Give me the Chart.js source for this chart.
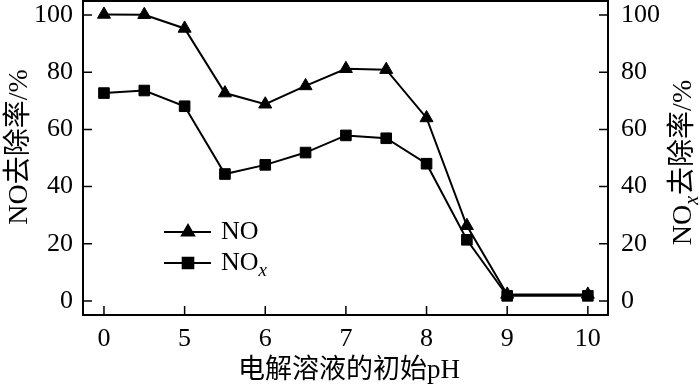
<!DOCTYPE html>
<html lang="zh">
<head>
    <meta charset="UTF-8">
    <title>NO / NOx 去除率</title>
    <script src="https://cdn.jsdelivr.net/npm/chart.js"></script>
    <style>
        html, body { margin: 0; padding: 0; background: #fff; }
    </style>
</head>
<body>
    <canvas id="chart" width="700" height="390"></canvas>

    <script>
        // x 位置（坐标轴单位），刻度标签对应 pH
        const xPos = [0, 0.5, 1, 1.5, 2, 2.5, 3, 3.5, 4, 4.5, 5, 6];
        const xTickLabels = ['0', '5', '6', '7', '8', '9', '10'];
        const yTicks = [0, 20, 40, 60, 80, 100];

        // 去除率 %
        const noValues  = [100.2, 100.1, 95.3, 72.7, 68.8, 75.2, 81.2, 80.9, 64.0, 26.3, 2.3, 2.3];
        const noxValues = [72.7, 73.6, 68.1, 44.4, 47.6, 51.9, 57.9, 56.9, 48.0, 21.4, 1.8, 1.8];

        const serif = '"Liberation Serif", "Noto Sans CJK SC", serif';
        const cjk = '"Liberation Serif", "Noto Sans CJK SC", serif';

        function fixTicks(scale) {
            scale.ticks = yTicks.map(v => ({ value: v }));
        }

        // 边框、内向刻度、坐标轴标题和图例
        const decor = {
            id: 'decor',
            afterDraw(chart) {
                const ctx = chart.ctx;
                const a = chart.chartArea;
                const x = chart.scales.x, y = chart.scales.y;
                ctx.save();
                ctx.strokeStyle = '#000';
                ctx.lineWidth = 2;
                ctx.strokeRect(a.left, a.top, a.right - a.left, a.bottom - a.top);

                ctx.lineWidth = 1.5;
                ctx.beginPath();
                yTicks.forEach(v => {
                    const py = y.getPixelForValue(v);
                    ctx.moveTo(a.left, py); ctx.lineTo(a.left + 9, py);
                    ctx.moveTo(a.right, py); ctx.lineTo(a.right - 9, py);
                });
                xTickLabels.forEach((t, i) => {
                    const px = x.getPixelForValue(i);
                    ctx.moveTo(px, a.bottom); ctx.lineTo(px, a.bottom - 9);
                });
                ctx.stroke();

                ctx.fillStyle = '#000';
                ctx.textBaseline = 'middle';

                // x 轴标题
                ctx.font = '27px ' + cjk;
                ctx.textAlign = 'center';
                ctx.fillText('电解溶液的初始pH', 349, 371);

                // 左 y 轴标题
                ctx.save();
                ctx.translate(20, 147);
                ctx.rotate(-Math.PI / 2);
                ctx.font = '28px ' + cjk;
                ctx.fillText('NO去除率/%', 0, 0);
                ctx.restore();

                // 右 y 轴标题（带下标 x）
                ctx.save();
                ctx.translate(684, 163);
                ctx.rotate(-Math.PI / 2);
                drawNOx(ctx, '去除率/%', 28, 'center');
                ctx.restore();

                // 图例
                const items = [
                    { style: 'triangle', r: 7, y: 232, label: 'NO' },
                    { style: 'rect', r: 7.5, y: 263, label: 'NOx' }
                ];
                items.forEach(it => {
                    ctx.lineWidth = 2;
                    ctx.beginPath();
                    ctx.moveTo(164, it.y); ctx.lineTo(211, it.y);
                    ctx.stroke();
                    Chart.helpers.drawPoint(ctx, { pointStyle: it.style, radius: it.r, borderWidth: 1 }, 188, it.y);
                    ctx.fill();
                    ctx.textAlign = 'left';
                    if (it.label === 'NO') {
                        ctx.font = '26px ' + serif;
                        ctx.fillText('NO', 221, it.y);
                    } else {
                        ctx.save();
                        ctx.translate(221, it.y);
                        drawNOx(ctx, '', 26, 'left');
                        ctx.restore();
                    }
                });
                ctx.restore();
            }
        };

        function drawNOx(ctx, tail, size, align) {
            ctx.font = size + 'px ' + serif;
            const w1 = ctx.measureText('NO').width;
            ctx.font = 'italic ' + Math.round(size * 0.72) + 'px ' + serif;
            const w2 = ctx.measureText('x').width;
            ctx.font = size + 'px ' + cjk;
            const w3 = tail ? ctx.measureText(tail).width : 0;
            let x0 = align === 'center' ? -(w1 + w2 + w3) / 2 : 0;
            ctx.textAlign = 'left';
            ctx.font = size + 'px ' + serif;
            ctx.fillText('NO', x0, 0);
            ctx.font = 'italic ' + Math.round(size * 0.72) + 'px ' + serif;
            ctx.fillText('x', x0 + w1, size * 0.3);
            if (tail) {
                ctx.font = size + 'px ' + cjk;
                ctx.fillText(tail, x0 + w1 + w2 + 1, 0);
            }
        }

        const tickFont = { family: serif, size: 26 };

        new Chart(document.getElementById('chart'), {
            type: 'line',
            data: {
                datasets: [{
                    label: 'NO',
                    data: xPos.map((v, i) => ({ x: v, y: noValues[i] })),
                    borderColor: '#000',
                    backgroundColor: '#000',
                    borderWidth: 2,
                    pointStyle: 'triangle',
                    pointRadius: 7.5,
                    pointBorderWidth: 1,
                    yAxisID: 'y'
                }, {
                    label: 'NOx',
                    data: xPos.map((v, i) => ({ x: v, y: noxValues[i] })),
                    borderColor: '#000',
                    backgroundColor: '#000',
                    borderWidth: 2,
                    pointStyle: 'rect',
                    pointRadius: 7.5,
                    pointBorderWidth: 1,
                    yAxisID: 'y2'
                }]
            },
            options: {
                responsive: false,
                animation: false,
                devicePixelRatio: 1,
                layout: { autoPadding: false, padding: { top: 1, left: 0, right: 0, bottom: 0 } },
                plugins: { legend: { display: false }, tooltip: { enabled: false } },
                scales: {
                    x: {
                        type: 'linear',
                        min: -0.26,
                        max: 6.25,
                        afterBuildTicks: s => { s.ticks = xTickLabels.map((t, i) => ({ value: i })); },
                        afterFit: s => { s.height = 75; s.paddingLeft = 0; s.paddingRight = 0; },
                        grid: { display: false, drawTicks: false },
                        border: { display: false },
                        ticks: {
                            color: '#000',
                            font: tickFont,
                            padding: 9,
                            maxRotation: 0,
                            autoSkip: false,
                            callback: v => xTickLabels[v]
                        }
                    },
                    y: {
                        position: 'left',
                        min: -4.9,
                        max: 104.9,
                        afterBuildTicks: fixTicks,
                        afterFit: s => { s.width = 83; s.paddingTop = 0; s.paddingBottom = 0; },
                        grid: { display: false, drawTicks: false },
                        border: { display: false },
                        ticks: { color: '#000', font: tickFont, padding: 10, autoSkip: false }
                    },
                    y2: {
                        position: 'right',
                        min: -4.9,
                        max: 104.9,
                        afterBuildTicks: fixTicks,
                        afterFit: s => { s.width = 92; s.paddingTop = 0; s.paddingBottom = 0; },
                        grid: { display: false, drawTicks: false },
                        border: { display: false },
                        ticks: { color: '#000', font: tickFont, padding: 13, autoSkip: false }
                    }
                }
            },
            plugins: [decor]
        });
    </script>
</body>
</html>
